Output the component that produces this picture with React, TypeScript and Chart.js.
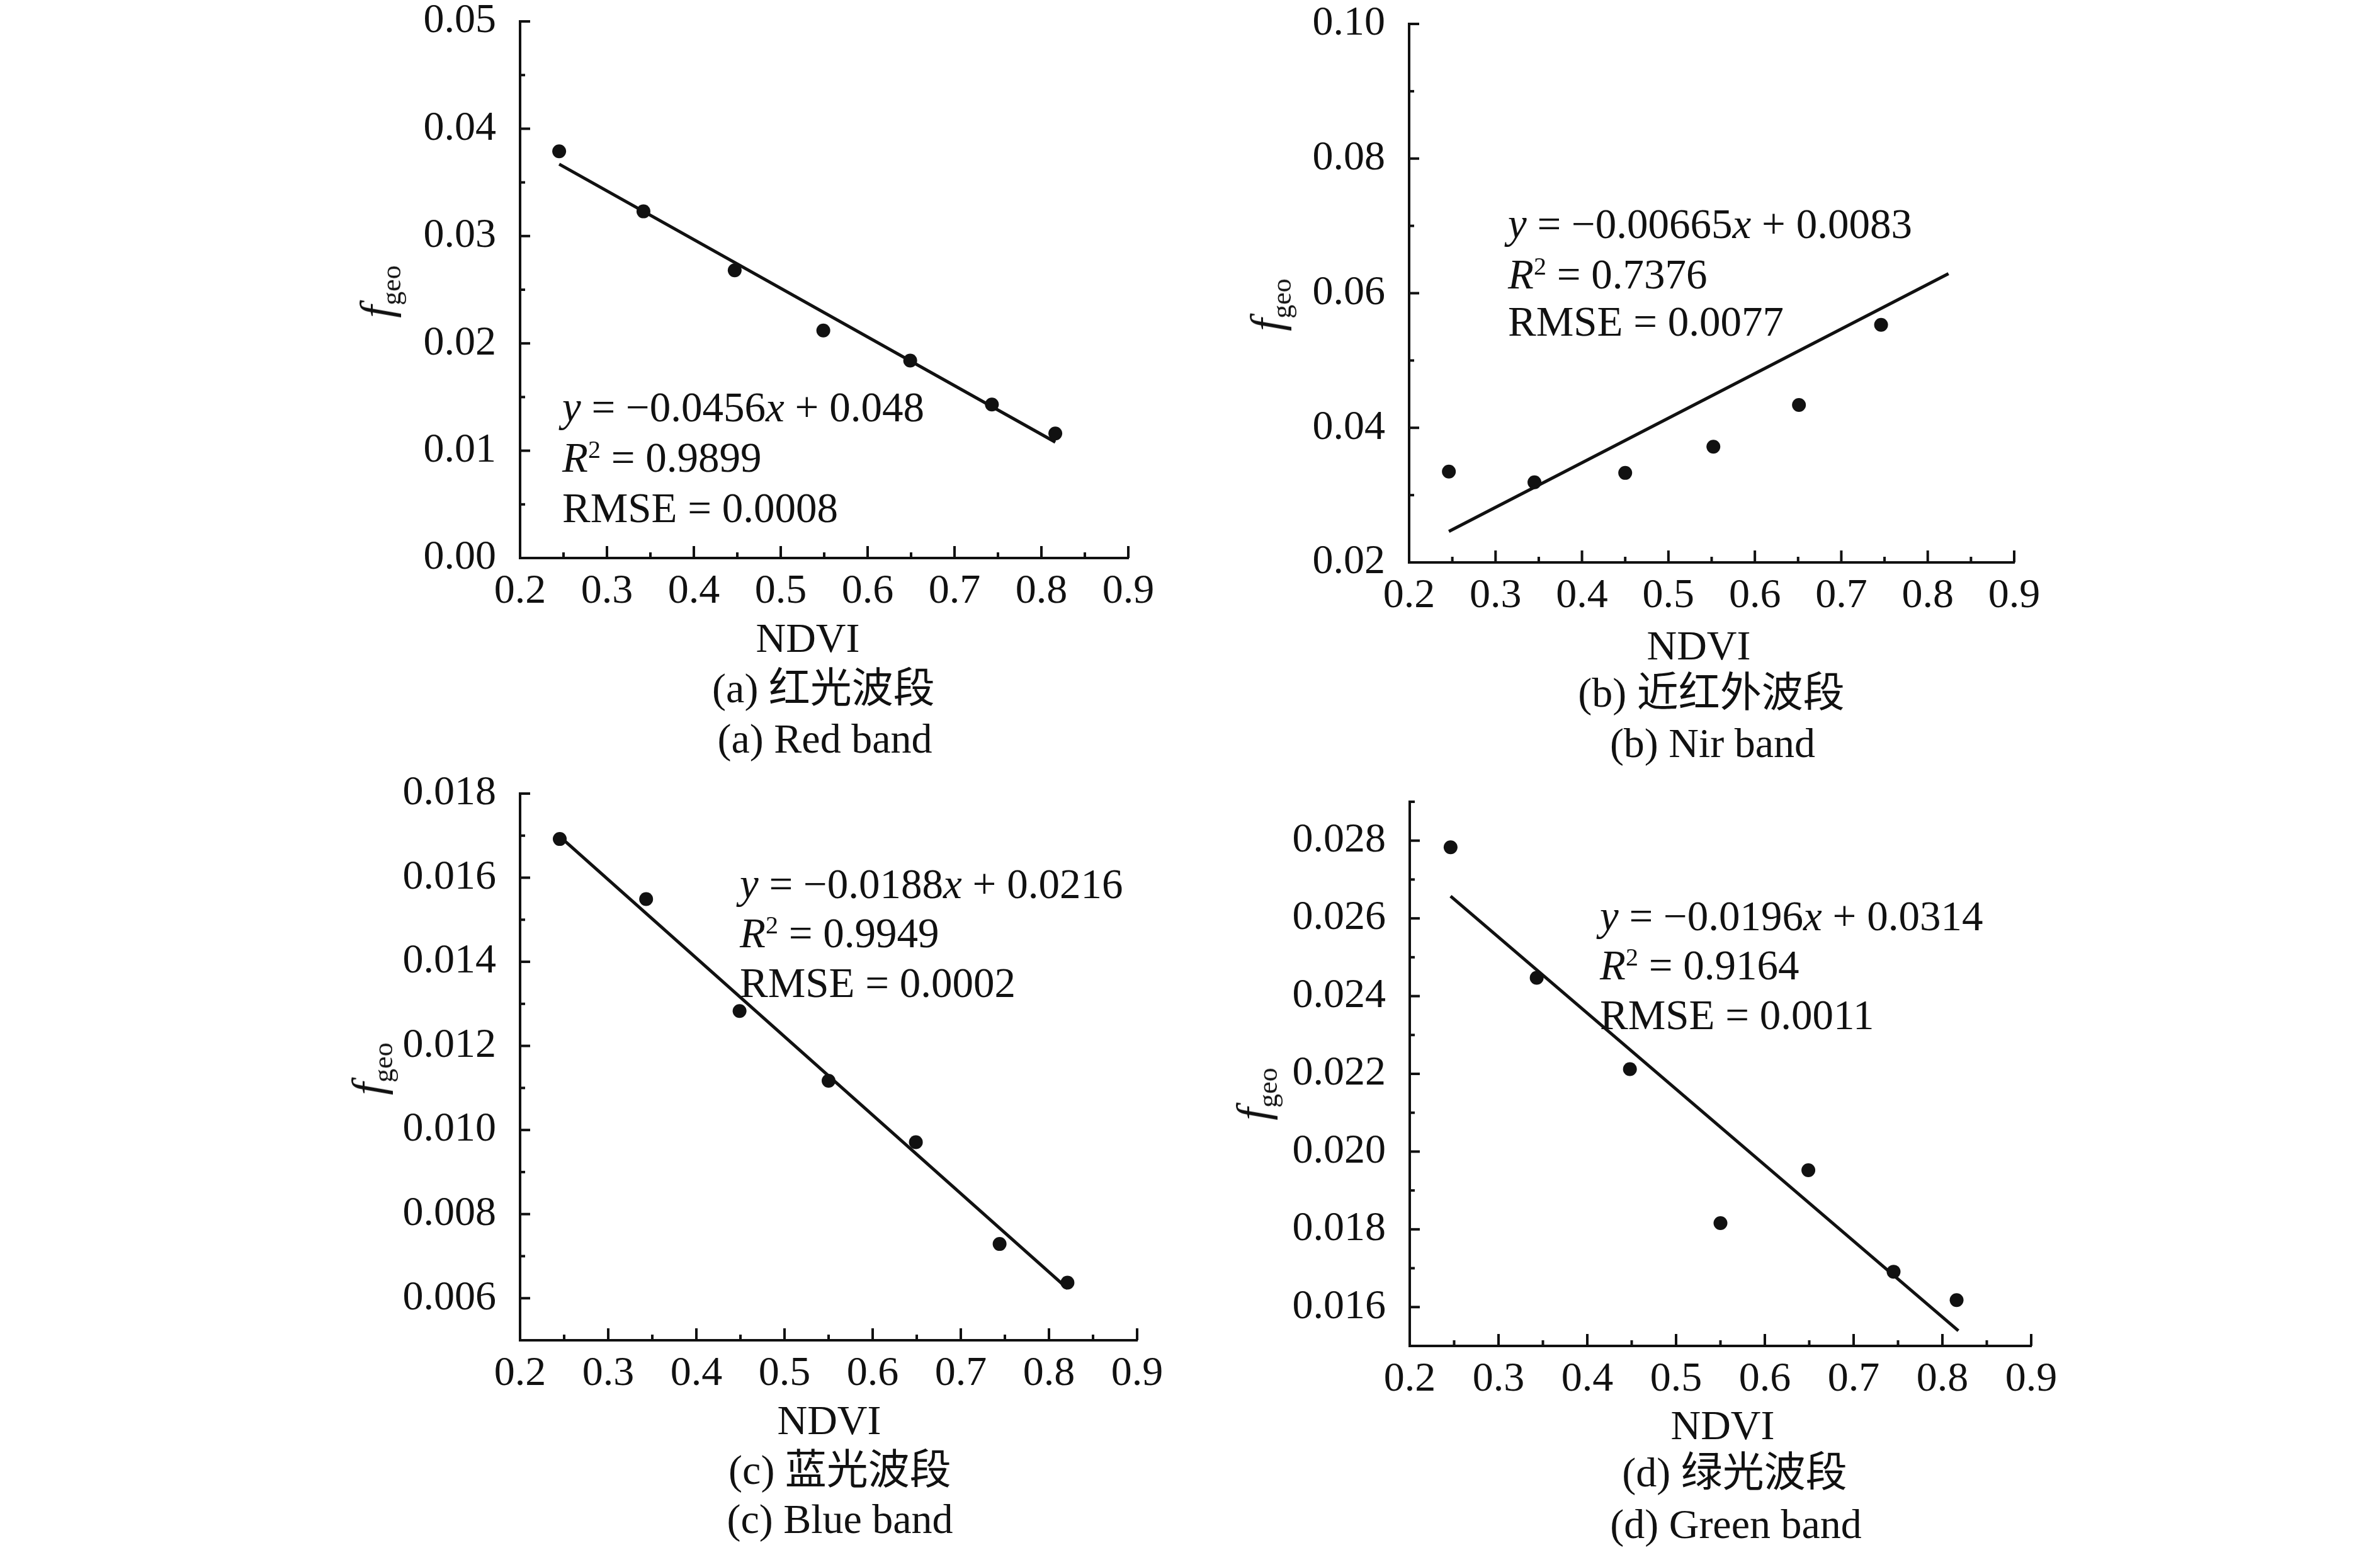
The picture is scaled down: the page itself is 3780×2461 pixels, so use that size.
import React, { useEffect, useRef } from 'react';
import { Chart, registerables } from 'chart.js';

Chart.register(...registerables);

const SERIF = '"Liberation Serif", "Times New Roman", serif';
const MIXED = '"Liberation Serif", "Noto Sans CJK SC", serif';
const INK = '#111';

// NDVI axis, same for all four panels
const ndviTicks = [0.2, 0.3, 0.4, 0.5, 0.6, 0.7, 0.8, 0.9];

// (a) red band
const redNdvi = [0.245, 0.342, 0.447, 0.549, 0.649, 0.743, 0.816];
const redFgeo = [0.0379, 0.0323, 0.0268, 0.0212, 0.0184, 0.0143, 0.0116];
const redFitX = [0.245, 0.816];
const redFitY = [0.0367, 0.0108];
const redTicks = [0, 0.01, 0.02, 0.03, 0.04, 0.05];
const redNote = ['−0.0456', '0.048', '0.9899', '0.0008'];

// (b) near infrared band
const nirNdvi = [0.246, 0.345, 0.45, 0.552, 0.651, 0.746];
const nirFgeo = [0.0335, 0.0319, 0.0333, 0.0372, 0.0434, 0.0553];
const nirFitX = [0.246, 0.824];
const nirFitY = [0.0246, 0.0629];
const nirTicks = [0.02, 0.04, 0.06, 0.08, 0.1];
const nirNote = ['−0.00665', '0.0083', '0.7376', '0.0077'];

// (c) blue band
const blueNdvi = [0.245, 0.343, 0.449, 0.55, 0.649, 0.744, 0.821];
const blueFgeo = [0.01692, 0.01549, 0.01283, 0.01117, 0.00971, 0.00729, 0.00637];
const blueFitX = [0.245, 0.821];
const blueFitY = [0.01698, 0.00623];
const blueTicks = [0.006, 0.008, 0.01, 0.012, 0.014, 0.016, 0.018];
const blueNote = ['−0.0188', '0.0216', '0.9949', '0.0002'];

// (d) green band
const greenNdvi = [0.246, 0.343, 0.448, 0.55, 0.649, 0.745, 0.816];
const greenFgeo = [0.02783, 0.02447, 0.02212, 0.01816, 0.01952, 0.01691, 0.01618];
const greenFitX = [0.246, 0.818];
const greenFitY = [0.02657, 0.01539];
const greenTicks = [0.016, 0.018, 0.02, 0.022, 0.024, 0.026, 0.028];
const greenNote = ['−0.0196', '0.0314', '0.9164', '0.0011'];

const Y_W = 260;
const X_H = 110;
// room above the plot: half a label plus the tick padding, or chart.js pushes the top down
const PAD_T = 90;
const PAD_R = 90;

// ticks point into the plot, with a minor tick half way between majors
const inwardTicks = {
  id: 'inwardTicks',
  beforeDatasetsDraw(chart: any) {
    const { ctx, chartArea, scales } = chart;
    ctx.save();
    ctx.strokeStyle = INK;
    ctx.lineWidth = 4;
    const run = (scale: any, horiz: boolean) => {
      const vals = scale.ticks.map((t: any) => t.value);
      const minors: number[] = [];
      for (let i = 0; i < vals.length - 1; i++) minors.push((vals[i] + vals[i + 1]) / 2);
      const step = vals[1] - vals[0];
      [vals[0] - step / 2, vals[vals.length - 1] + step / 2].forEach((v) => {
        if (v >= scale.min - 1e-9 && v <= scale.max + 1e-9) minors.push(v);
      });
      const mark = (v: number, len: number) => {
        const p = scale.getPixelForValue(v);
        ctx.beginPath();
        if (horiz) {
          ctx.moveTo(p, chartArea.bottom);
          ctx.lineTo(p, chartArea.bottom - len);
        } else {
          ctx.moveTo(chartArea.left, p);
          ctx.lineTo(chartArea.left + len, p);
        }
        ctx.stroke();
      };
      vals.forEach((v: number) => mark(v, horiz ? 19 : 16));
      minors.forEach((v) => mark(v, horiz ? 9 : 8));
    };
    run(scales.x, true);
    run(scales.y, false);
    ctx.restore();
  },
};

type Box = { l: number; t: number; r: number; b: number };

interface PanelProps {
  ndvi: number[];
  fgeo: number[];
  fitX: number[];
  fitY: number[];
  yTicks: number[];
  yMin: number;
  yMax: number;
  digits: number;
  box: Box;
}

const Panel: React.FC<PanelProps> = (p) => {
  const ref = useRef<HTMLCanvasElement>(null);
  const w = Y_W + (p.box.r - p.box.l) + PAD_R;
  const h = PAD_T + (p.box.b - p.box.t) + X_H;

  useEffect(() => {
    const tickFont = { family: SERIF, size: 66 };
    const chart = new Chart(ref.current as HTMLCanvasElement, {
      type: 'scatter',
      data: {
        datasets: [
          {
            type: 'line',
            data: p.fitX.map((x, i) => ({ x, y: p.fitY[i] })),
            borderColor: INK,
            borderWidth: 5,
            pointRadius: 0,
            fill: false,
            tension: 0,
            order: 2,
          } as any,
          {
            type: 'scatter',
            data: p.ndvi.map((x, i) => ({ x, y: p.fgeo[i] })),
            backgroundColor: INK,
            borderWidth: 0,
            pointRadius: 11,
            order: 1,
          },
        ],
      },
      options: {
        animation: false,
        responsive: false,
        layout: { padding: { top: PAD_T, right: PAD_R, left: 0, bottom: 0 } },
        plugins: { legend: { display: false }, tooltip: { enabled: false } },
        scales: {
          x: {
            type: 'linear',
            min: 0.2,
            max: 0.9,
            afterBuildTicks: (s: any) => {
              s.ticks = ndviTicks.map((v) => ({ value: v }));
            },
            afterFit: (s: any) => {
              s.height = X_H;
            },
            grid: { display: true, drawOnChartArea: false, drawTicks: false },
            border: { display: true, color: INK, width: 4 },
            ticks: {
              color: INK,
              font: tickFont,
              padding: 14,
              maxRotation: 0,
              autoSkip: false,
              callback: (v: any) => Number(v).toFixed(1),
            },
          },
          y: {
            type: 'linear',
            min: p.yMin,
            max: p.yMax,
            afterBuildTicks: (s: any) => {
              s.ticks = p.yTicks.map((v) => ({ value: v }));
            },
            afterFit: (s: any) => {
              s.width = Y_W;
            },
            grid: { display: true, drawOnChartArea: false, drawTicks: false },
            border: { display: true, color: INK, width: 4 },
            ticks: {
              color: INK,
              font: tickFont,
              padding: 38,
              autoSkip: false,
              callback: (v: any) => Number(v).toFixed(p.digits),
            },
          },
        },
      },
      plugins: [inwardTicks],
    });
    return () => chart.destroy();
  }, []);

  return (
    <canvas
      ref={ref}
      width={w}
      height={h}
      style={{ position: 'absolute', left: p.box.l - Y_W, top: p.box.t - PAD_T, width: w, height: h }}
    />
  );
};

const Txt: React.FC<{ x: number; y: number; size?: number; center?: boolean; children: React.ReactNode }> = ({
  x,
  y,
  size = 66,
  center = true,
  children,
}) => (
  <div
    style={{
      position: 'absolute',
      left: x,
      top: y,
      transform: center ? 'translate(-50%, -50%)' : 'translate(0, -50%)',
      fontFamily: MIXED,
      fontSize: size,
      lineHeight: 1,
      color: INK,
      whiteSpace: 'nowrap',
    }}
  >
    {children}
  </div>
);

const YTitle: React.FC<{ x: number; y: number }> = ({ x, y }) => (
  <div
    style={{
      position: 'absolute',
      left: x,
      top: y,
      transform: 'translate(-50%, -50%) rotate(-90deg)',
      fontFamily: SERIF,
      fontSize: 72,
      lineHeight: 1,
      color: INK,
      whiteSpace: 'nowrap',
    }}
  >
    <i>f</i>
    <span style={{ fontSize: 44, position: 'relative', top: 14 }}>geo</span>
  </div>
);

const Note: React.FC<{ x: number; ys: number[]; vals: string[] }> = ({ x, ys, vals }) => (
  <>
    <Txt x={x} y={ys[0]} size={67} center={false}>
      <i>y</i> = {vals[0]}
      <i>x</i> + {vals[1]}
    </Txt>
    <Txt x={x} y={ys[1]} size={67} center={false}>
      <i>R</i>
      <span style={{ fontSize: 40, position: 'relative', top: -22 }}>2</span> = {vals[2]}
    </Txt>
    <Txt x={x} y={ys[2]} size={67} center={false}>
      RMSE = {vals[3]}
    </Txt>
  </>
);

export default function App() {
  return (
    <div
      style={{
        position: 'absolute',
        left: 0,
        top: 0,
        width: 3780,
        height: 2461,
        overflow: 'hidden',
        background: '#fff',
      }}
    >
      <Panel
        ndvi={redNdvi}
        fgeo={redFgeo}
        fitX={redFitX}
        fitY={redFitY}
        yTicks={redTicks}
        yMin={0}
        yMax={0.05}
        digits={2}
        box={{ l: 826, t: 34, r: 1792, b: 886 }}
      />
      <YTitle x={598} y={463} />
      <Note x={893} ys={[646, 726, 806]} vals={redNote} />
      <Txt x={1283} y={1013}>NDVI</Txt>
      <Txt x={1308} y={1093}>(a) 红光波段</Txt>
      <Txt x={1310} y={1173}>(a) Red band</Txt>

      <Panel
        ndvi={nirNdvi}
        fgeo={nirFgeo}
        fitX={nirFitX}
        fitY={nirFitY}
        yTicks={nirTicks}
        yMin={0.02}
        yMax={0.1}
        digits={2}
        box={{ l: 2238, t: 38, r: 3199, b: 893 }}
      />
      <YTitle x={2012} y={484} />
      <Note x={2395} ys={[355, 435, 510]} vals={nirNote} />
      <Txt x={2698} y={1025}>NDVI</Txt>
      <Txt x={2718} y={1100}>(b) 近红外波段</Txt>
      <Txt x={2720} y={1180}>(b) Nir band</Txt>

      <Panel
        ndvi={blueNdvi}
        fgeo={blueFgeo}
        fitX={blueFitX}
        fitY={blueFitY}
        yTicks={blueTicks}
        yMin={0.005}
        yMax={0.018}
        digits={3}
        box={{ l: 826, t: 1260, r: 1806, b: 2128 }}
      />
      <YTitle x={585} y={1697} />
      <Note x={1175} ys={[1403, 1481, 1560]} vals={blueNote} />
      <Txt x={1317} y={2255}>NDVI</Txt>
      <Txt x={1334} y={2334}>(c) 蓝光波段</Txt>
      <Txt x={1334} y={2412}>(c) Blue band</Txt>

      <Panel
        ndvi={greenNdvi}
        fgeo={greenFgeo}
        fitX={greenFitX}
        fitY={greenFitY}
        yTicks={greenTicks}
        yMin={0.015}
        yMax={0.029}
        digits={3}
        box={{ l: 2239, t: 1273, r: 3226, b: 2137 }}
      />
      <YTitle x={1990} y={1737} />
      <Note x={2541} ys={[1454, 1532, 1611]} vals={greenNote} />
      <Txt x={2736} y={2263}>NDVI</Txt>
      <Txt x={2755} y={2338}>(d) 绿光波段</Txt>
      <Txt x={2757} y={2420}>(d) Green band</Txt>
    </div>
  );
}
